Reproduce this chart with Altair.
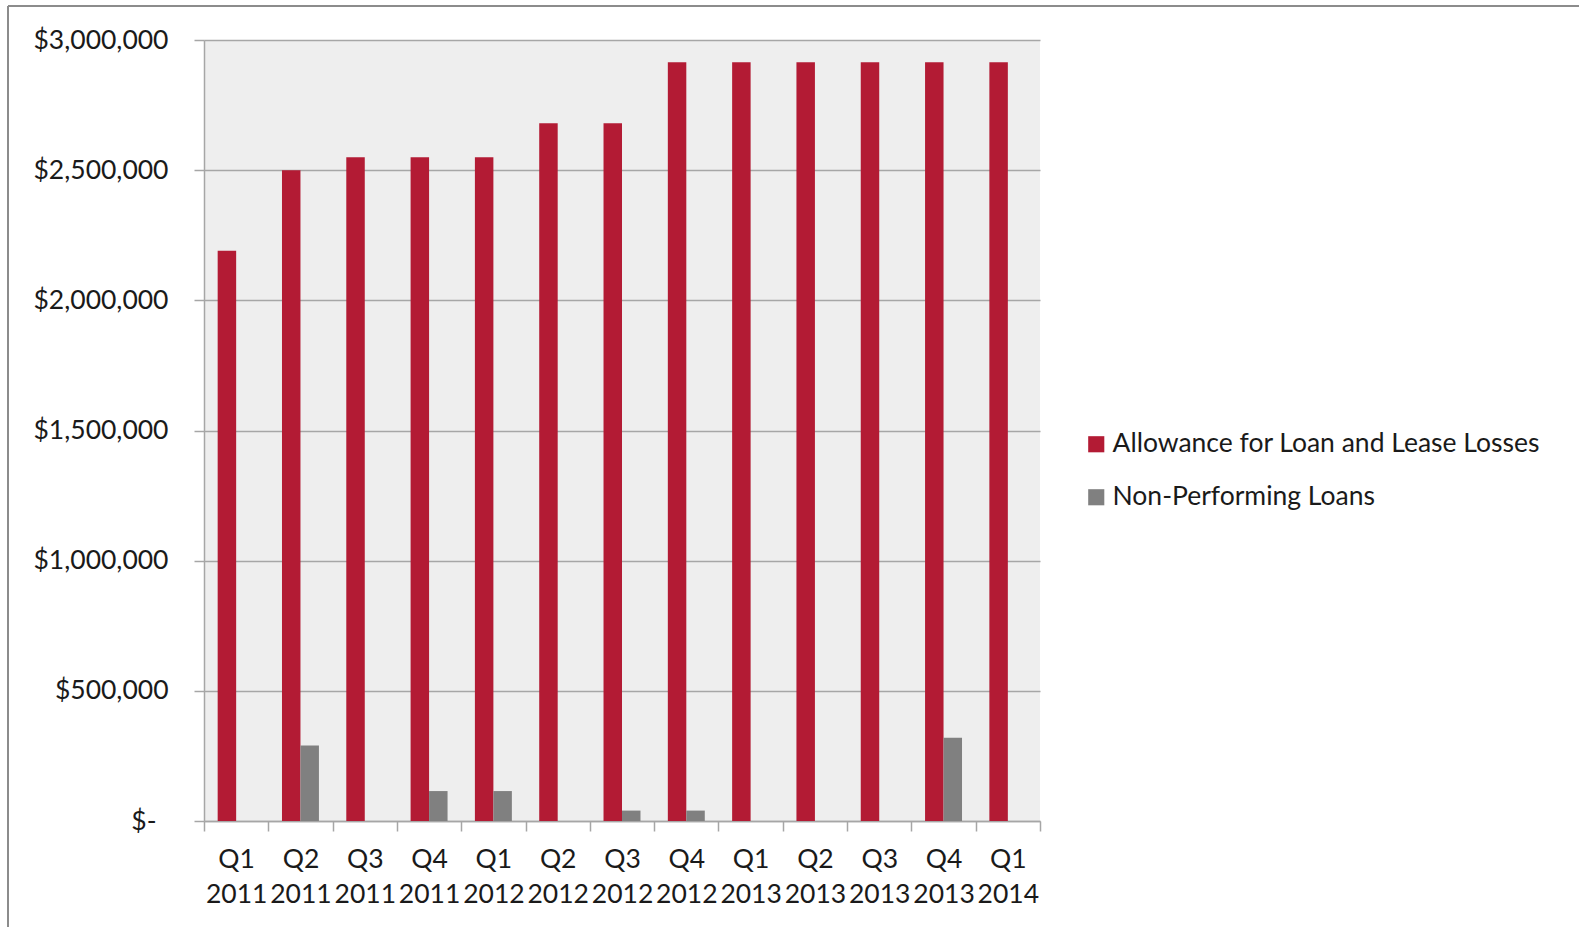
import altair as alt
import pandas as pd

quarters = ["Q1 2011", "Q2 2011", "Q3 2011", "Q4 2011", "Q1 2012", "Q2 2012", "Q3 2012",
            "Q4 2012", "Q1 2013", "Q2 2013", "Q3 2013", "Q4 2013", "Q1 2014"]
allowance = [2190000, 2500000, 2550000, 2550000, 2550000, 2680000, 2680000,
             2915000, 2915000, 2915000, 2915000, 2915000, 2915000]
non_performing = [0, 290000, 0, 115000, 115000, 0, 40000,
                  40000, 0, 0, 0, 320000, 0]
series_names = ["Allowance for Loan and Lease Losses", "Non-Performing Loans"]
series_colors = ["#B31B34", "#808080"]
y_ticks = [0, 500000, 1000000, 1500000, 2000000, 2500000, 3000000]

rows = []
for q, a, n in zip(quarters, allowance, non_performing):
    rows.append({"quarter": q, "series": series_names[0], "value": a})
    rows.append({"quarter": q, "series": series_names[1], "value": n})
df = pd.DataFrame(rows)

FONT = "Lato"
FS = 26.5
GRID = "#A6A6A6"

bars = alt.Chart(df).mark_bar(stroke=None).encode(
    x=alt.X("quarter:N", sort=quarters, title=None,
            scale=alt.Scale(paddingInner=0, paddingOuter=0),
            axis=alt.Axis(labelAngle=0, labelExpr="split(datum.label, ' ')",
                          labelLineHeight=35, labelFontSize=FS, labelFont=FONT,
                          labelColor="#1a1a1a", labelPadding=15, labelBaseline="top",
                          tickBand="extent", tickSize=10, tickColor=GRID, tickWidth=1.5,
                          domainColor=GRID, domainWidth=1.5, grid=False)),
    xOffset=alt.XOffset("series:N", sort=series_names,
                        scale=alt.Scale(paddingInner=0, paddingOuter=0.74)),
    y=alt.Y("value:Q", title=None,
            scale=alt.Scale(domain=[0, 3000000], nice=False),
            axis=alt.Axis(values=y_ticks,
                          labelExpr="datum.value == 0 ? '$-' : '$' + format(datum.value, ',')",
                          labelFontSize=FS, labelFont=FONT, labelColor="#1a1a1a",
                          labelPadding=alt.expr("datum.value == 0 ? 38 : 26"),
                          tickSize=10, tickColor=GRID, tickWidth=1.5,
                          domainColor=GRID, domainWidth=1.5,
                          gridColor=GRID, gridWidth=1.5)),
    color=alt.Color("series:N", sort=series_names,
                    scale=alt.Scale(domain=series_names, range=series_colors),
                    legend=alt.Legend(title=None, orient="none", legendX=879, legendY=391,
                                      symbolType="square", symbolSize=260,
                                      symbolStrokeWidth=0, labelFont=FONT,
                                      labelFontSize=FS, labelColor="#1a1a1a",
                                      labelOffset=3, rowPadding=26, padding=0,
                                      labelLimit=600)),
)

# thin frame around the figure (top and left edges)
frame_top = alt.Chart(df).mark_rule(color="#8C8C8C", strokeWidth=2).encode(
    x=alt.value(-196), x2=alt.value(1400), y=alt.value(-34))
frame_left = alt.Chart(df).mark_rule(color="#8C8C8C", strokeWidth=2).encode(
    x=alt.value(-196), y=alt.value(-34), y2=alt.value(900))

chart = alt.layer(bars, frame_top, frame_left).properties(
    width=836, height=781,
    autosize=alt.AutoSizeParams(type="none"),
    padding={"left": 204, "top": 40, "right": 539, "bottom": 106},
    background="white",
).configure_view(fill="#EEEEEE", stroke=None)

chart.save("out.html", embed_options={"renderer": "svg", "actions": False})
